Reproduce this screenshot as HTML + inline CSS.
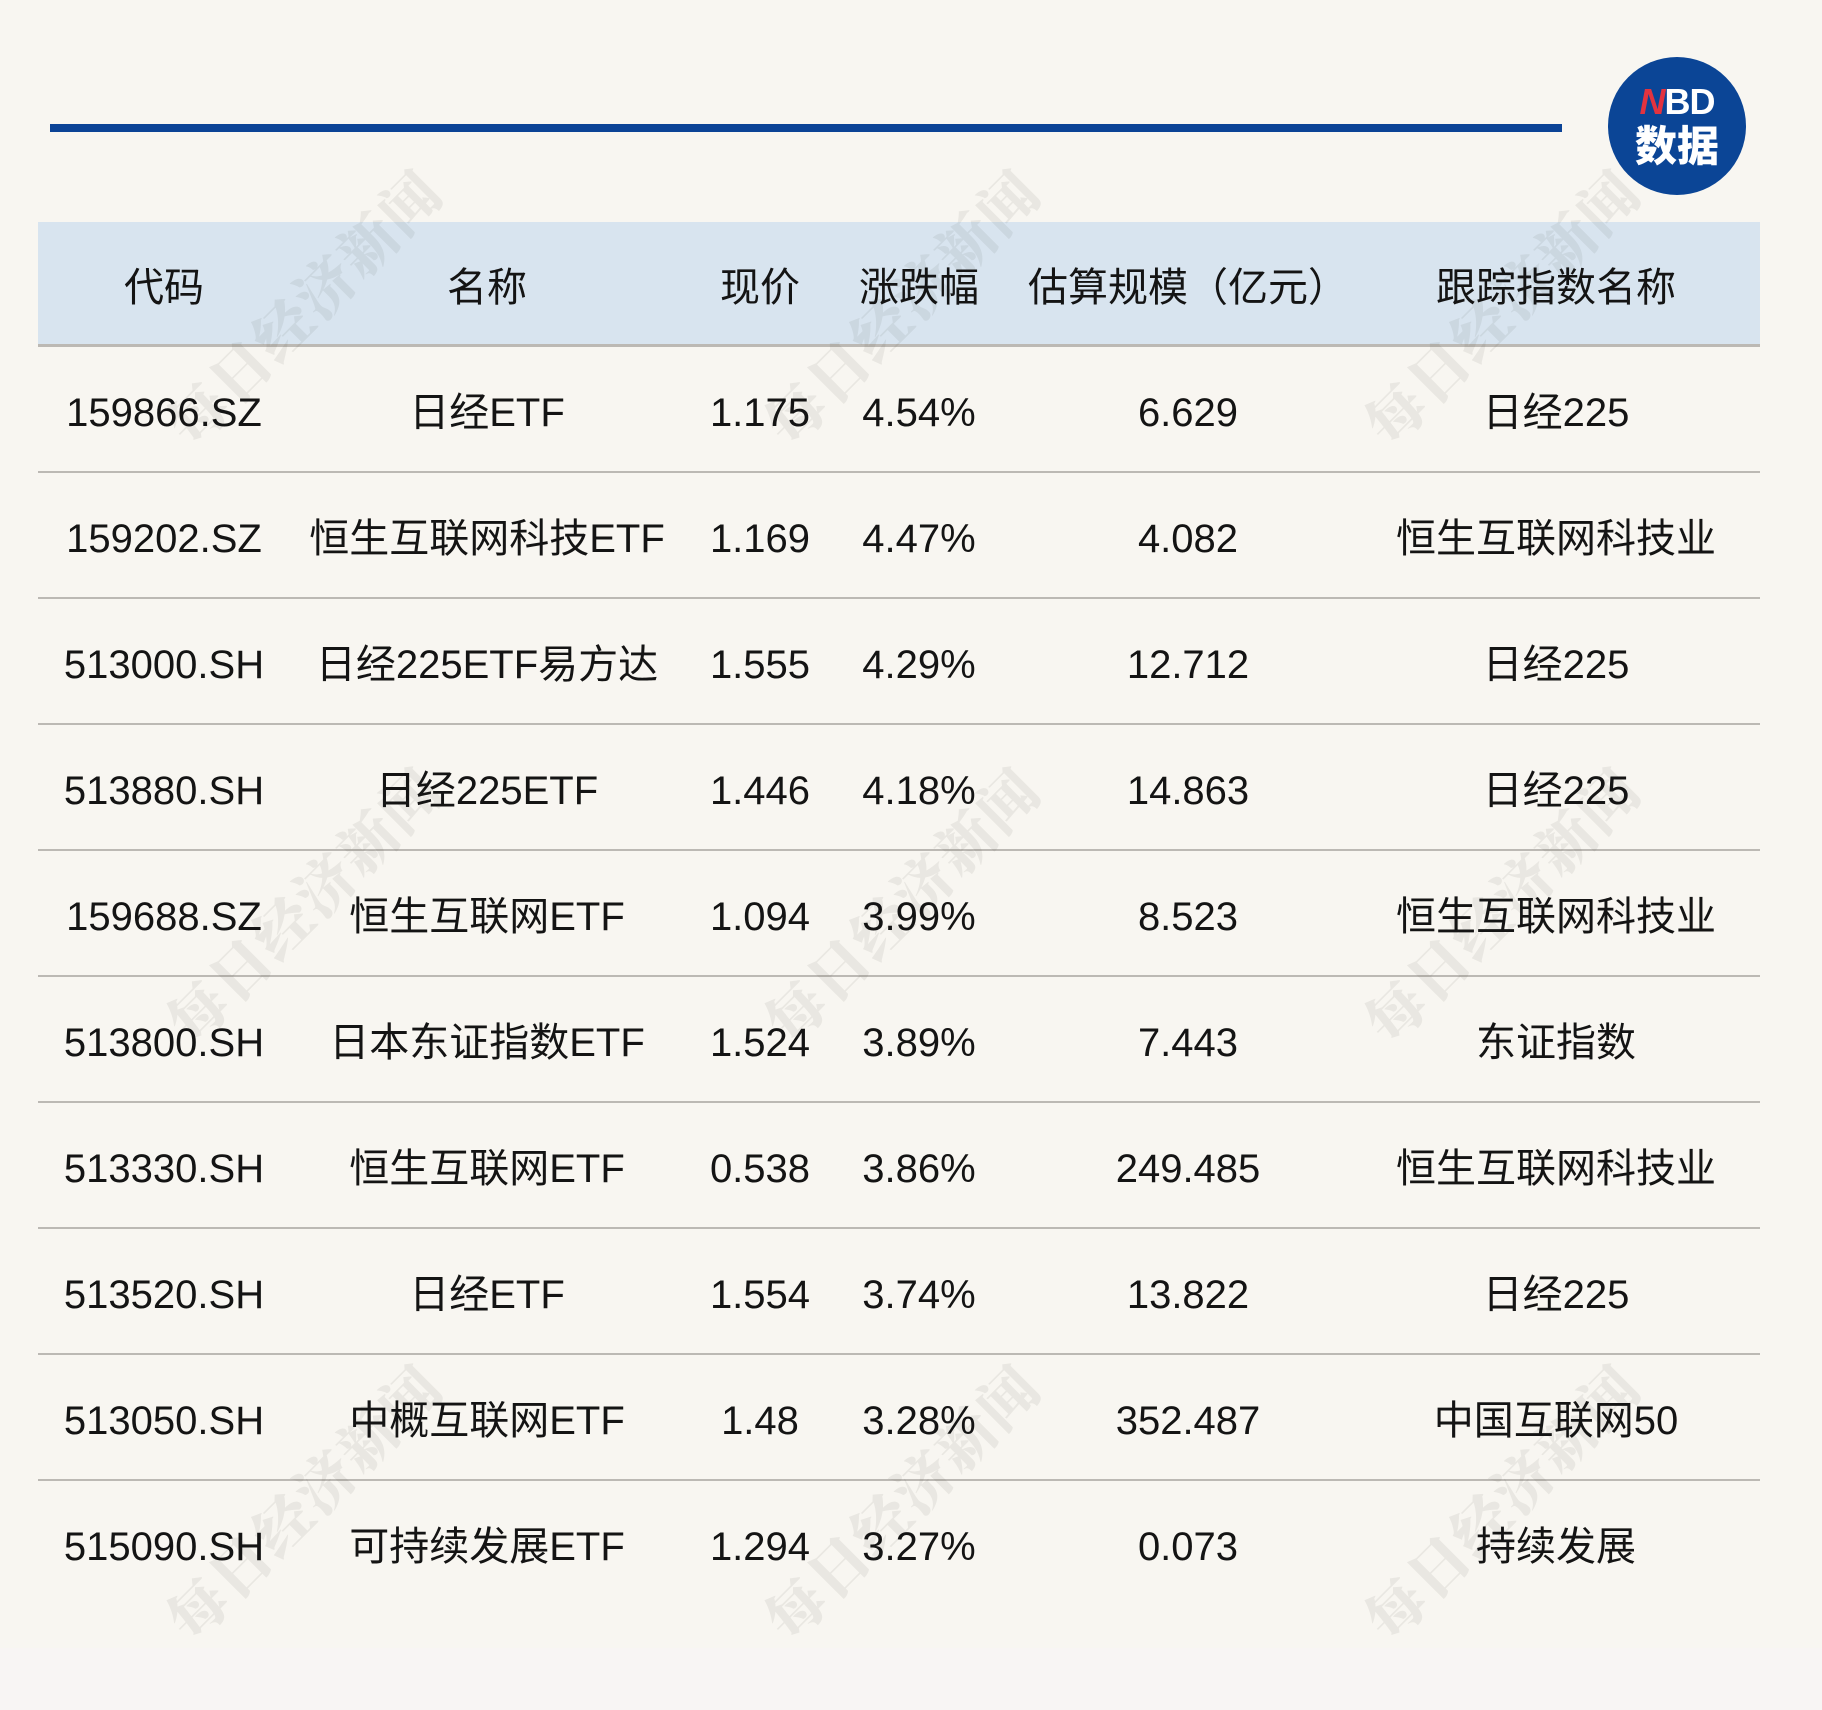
<!DOCTYPE html>
<html>
<head>
<meta charset="utf-8">
<style>
  html, body { margin: 0; padding: 0; }
  body {
    width: 1822px; height: 1710px; position: relative; overflow: hidden;
    background: #f8f6f1;
    font-family: "Liberation Sans", "Noto Sans CJK SC", sans-serif;
    color: #141414;
  }
  .abs { position: absolute; }
  .bottom { left: 0; top: 1648px; width: 1822px; height: 62px; background: #f8f5f4; }
  .topline { left: 50px; top: 124px; width: 1512px; height: 8px; background: #0b4396; }
  .logo { left: 1608px; top: 57px; width: 138px; height: 138px; border-radius: 50%; background: #0b4596; }
  .nbd { left: 0; top: 27px; width: 138px; text-align: center; font-family: "Liberation Sans", sans-serif; font-weight: bold; font-size: 36px; line-height: 36px; color: #fff; letter-spacing: -1px; }
  .nbd i { color: #e3333f; }
  .sj { left: 0; top: 64px; width: 138px; text-align: center; font-family: "Noto Sans CJK SC", sans-serif; font-weight: 900; font-size: 42px; line-height: 46px; color: #fff; }
  .header { left: 38px; top: 222px; width: 1722px; height: 123px; background: #d8e4ef; }
  .hl { left: 38px; width: 1722px; height: 2px; background: #bcb9b4; }
  .wm { font-family: "Noto Serif CJK SC", serif; font-weight: 900; font-size: 58px; line-height: 60px; color: rgba(60,50,40,0.075); white-space: nowrap; width: 380px; text-align: center; letter-spacing: 2px; transform: rotate(-45deg); transform-origin: 50% 50%; }
  .c { position: absolute; text-align: center; font-size: 40px; white-space: nowrap; height: 126px; line-height: 126px; }
  .h { height: 124px; line-height: 124px; }
</style>
</head>
<body>
<div class="abs bottom"></div>
<div class="abs topline"></div>
<div class="abs logo">
  <div class="abs nbd"><i>N</i>BD</div>
  <div class="abs sj">数据</div>
</div>

<div class="abs header"></div>
<div class="abs hl" style="top:344px;height:3px;"></div>
<div class="abs hl" style="top:471px;"></div>
<div class="abs hl" style="top:597px;"></div>
<div class="abs hl" style="top:723px;"></div>
<div class="abs hl" style="top:849px;"></div>
<div class="abs hl" style="top:975px;"></div>
<div class="abs hl" style="top:1101px;"></div>
<div class="abs hl" style="top:1227px;"></div>
<div class="abs hl" style="top:1353px;"></div>
<div class="abs hl" style="top:1479px;"></div>

<!-- watermarks -->
<div class="abs wm" style="left:112px;top:275px;">每日经济新闻</div>
<div class="abs wm" style="left:710px;top:275px;">每日经济新闻</div>
<div class="abs wm" style="left:1310px;top:275px;">每日经济新闻</div>
<div class="abs wm" style="left:112px;top:873px;">每日经济新闻</div>
<div class="abs wm" style="left:710px;top:873px;">每日经济新闻</div>
<div class="abs wm" style="left:1310px;top:873px;">每日经济新闻</div>
<div class="abs wm" style="left:112px;top:1470px;">每日经济新闻</div>
<div class="abs wm" style="left:710px;top:1470px;">每日经济新闻</div>
<div class="abs wm" style="left:1310px;top:1470px;">每日经济新闻</div>

<!-- header -->
<div class="c h" style="top:226px;left:38px;width:252px;">代码</div>
<div class="c h" style="top:226px;left:290px;width:394px;">名称</div>
<div class="c h" style="top:226px;left:690px;width:140px;">现价</div>
<div class="c h" style="top:226px;left:849px;width:140px;">涨跌幅</div>
<div class="c h" style="top:226px;left:1018px;width:340px;">估算规模（亿元）</div>
<div class="c h" style="top:226px;left:1376px;width:360px;">跟踪指数名称</div>

<!-- row 1 -->
<div class="c" style="top:350px;left:38px;width:252px;">159866.SZ</div>
<div class="c" style="top:350px;left:290px;width:394px;">日经ETF</div>
<div class="c" style="top:350px;left:690px;width:140px;">1.175</div>
<div class="c" style="top:350px;left:849px;width:140px;">4.54%</div>
<div class="c" style="top:350px;left:1028px;width:320px;">6.629</div>
<div class="c" style="top:350px;left:1376px;width:360px;">日经225</div>
<!-- row 2 -->
<div class="c" style="top:476px;left:38px;width:252px;">159202.SZ</div>
<div class="c" style="top:476px;left:290px;width:394px;">恒生互联网科技ETF</div>
<div class="c" style="top:476px;left:690px;width:140px;">1.169</div>
<div class="c" style="top:476px;left:849px;width:140px;">4.47%</div>
<div class="c" style="top:476px;left:1028px;width:320px;">4.082</div>
<div class="c" style="top:476px;left:1376px;width:360px;">恒生互联网科技业</div>
<!-- row 3 -->
<div class="c" style="top:602px;left:38px;width:252px;">513000.SH</div>
<div class="c" style="top:602px;left:290px;width:394px;">日经225ETF易方达</div>
<div class="c" style="top:602px;left:690px;width:140px;">1.555</div>
<div class="c" style="top:602px;left:849px;width:140px;">4.29%</div>
<div class="c" style="top:602px;left:1028px;width:320px;">12.712</div>
<div class="c" style="top:602px;left:1376px;width:360px;">日经225</div>
<!-- row 4 -->
<div class="c" style="top:728px;left:38px;width:252px;">513880.SH</div>
<div class="c" style="top:728px;left:290px;width:394px;">日经225ETF</div>
<div class="c" style="top:728px;left:690px;width:140px;">1.446</div>
<div class="c" style="top:728px;left:849px;width:140px;">4.18%</div>
<div class="c" style="top:728px;left:1028px;width:320px;">14.863</div>
<div class="c" style="top:728px;left:1376px;width:360px;">日经225</div>
<!-- row 5 -->
<div class="c" style="top:854px;left:38px;width:252px;">159688.SZ</div>
<div class="c" style="top:854px;left:290px;width:394px;">恒生互联网ETF</div>
<div class="c" style="top:854px;left:690px;width:140px;">1.094</div>
<div class="c" style="top:854px;left:849px;width:140px;">3.99%</div>
<div class="c" style="top:854px;left:1028px;width:320px;">8.523</div>
<div class="c" style="top:854px;left:1376px;width:360px;">恒生互联网科技业</div>
<!-- row 6 -->
<div class="c" style="top:980px;left:38px;width:252px;">513800.SH</div>
<div class="c" style="top:980px;left:290px;width:394px;">日本东证指数ETF</div>
<div class="c" style="top:980px;left:690px;width:140px;">1.524</div>
<div class="c" style="top:980px;left:849px;width:140px;">3.89%</div>
<div class="c" style="top:980px;left:1028px;width:320px;">7.443</div>
<div class="c" style="top:980px;left:1376px;width:360px;">东证指数</div>
<!-- row 7 -->
<div class="c" style="top:1106px;left:38px;width:252px;">513330.SH</div>
<div class="c" style="top:1106px;left:290px;width:394px;">恒生互联网ETF</div>
<div class="c" style="top:1106px;left:690px;width:140px;">0.538</div>
<div class="c" style="top:1106px;left:849px;width:140px;">3.86%</div>
<div class="c" style="top:1106px;left:1028px;width:320px;">249.485</div>
<div class="c" style="top:1106px;left:1376px;width:360px;">恒生互联网科技业</div>
<!-- row 8 -->
<div class="c" style="top:1232px;left:38px;width:252px;">513520.SH</div>
<div class="c" style="top:1232px;left:290px;width:394px;">日经ETF</div>
<div class="c" style="top:1232px;left:690px;width:140px;">1.554</div>
<div class="c" style="top:1232px;left:849px;width:140px;">3.74%</div>
<div class="c" style="top:1232px;left:1028px;width:320px;">13.822</div>
<div class="c" style="top:1232px;left:1376px;width:360px;">日经225</div>
<!-- row 9 -->
<div class="c" style="top:1358px;left:38px;width:252px;">513050.SH</div>
<div class="c" style="top:1358px;left:290px;width:394px;">中概互联网ETF</div>
<div class="c" style="top:1358px;left:690px;width:140px;">1.48</div>
<div class="c" style="top:1358px;left:849px;width:140px;">3.28%</div>
<div class="c" style="top:1358px;left:1028px;width:320px;">352.487</div>
<div class="c" style="top:1358px;left:1376px;width:360px;">中国互联网50</div>
<!-- row 10 -->
<div class="c" style="top:1484px;left:38px;width:252px;">515090.SH</div>
<div class="c" style="top:1484px;left:290px;width:394px;">可持续发展ETF</div>
<div class="c" style="top:1484px;left:690px;width:140px;">1.294</div>
<div class="c" style="top:1484px;left:849px;width:140px;">3.27%</div>
<div class="c" style="top:1484px;left:1028px;width:320px;">0.073</div>
<div class="c" style="top:1484px;left:1376px;width:360px;">持续发展</div>
</body>
</html>
